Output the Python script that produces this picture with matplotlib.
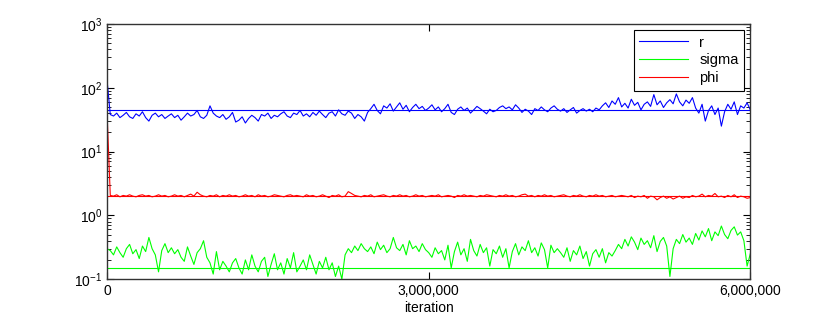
import numpy as np
import matplotlib
matplotlib.use("Agg")
import matplotlib.pyplot as plt
from matplotlib.ticker import FixedLocator, LogLocator, NullFormatter

plt.rcParams['font.family'] = ['Liberation Sans', 'DejaVu Sans']

r = [130,
     38, 36, 40, 34, 37, 41, 35, 33, 39, 36, 42, 34, 30, 37, 40, 35, 38, 33, 36, 39,
     34, 37, 31, 35, 40, 36, 38, 44, 35, 33, 37, 52, 40, 36, 34, 38, 32, 35, 41, 29,
     31, 35, 28, 33, 37, 34, 30, 38, 36, 40, 33, 37, 35, 39, 42, 36, 34, 40, 38, 44,
     36, 39, 35, 41, 37, 43, 38, 34, 40, 42, 36, 45, 39, 37, 43, 40, 33, 38, 35, 30,
     41, 47, 55, 44, 39, 52, 48, 56, 43, 50, 58, 46, 53, 42, 49, 55, 47, 51, 44, 48,
     54, 45, 50, 42, 47, 55, 41, 38, 46, 50, 44, 48, 40, 45, 51, 47, 43, 39, 46, 42,
     44, 49, 52, 47, 50, 45, 54, 48, 41, 46, 43, 38, 47, 44, 50, 45, 42, 48, 52, 46,
     43, 47, 41, 45, 49, 40, 44, 47, 43, 46, 42, 48, 45, 52, 58, 49, 62, 55, 70, 50,
     57, 48, 66, 53, 59, 45, 55, 60, 51, 78, 54, 62, 49, 58, 65, 56, 80, 60, 52, 64,
     57, 70, 48, 40, 55, 30, 44, 52, 38, 48, 25, 42, 55, 46, 60, 38, 52, 48, 58, 45]

sigma = [0.30,
         0.28, 0.24, 0.32, 0.26, 0.22, 0.30, 0.35, 0.25, 0.29, 0.21, 0.33, 0.27, 0.45, 0.30, 0.24, 0.13, 0.28, 0.36, 0.26, 0.31,
         0.25, 0.29, 0.22, 0.19, 0.32, 0.23, 0.17, 0.26, 0.30, 0.40, 0.22, 0.18, 0.12, 0.27, 0.14, 0.19, 0.16, 0.13, 0.18, 0.21,
         0.15, 0.12, 0.20, 0.14, 0.24, 0.16, 0.13, 0.19, 0.22, 0.11, 0.17, 0.25, 0.14, 0.18, 0.12, 0.21, 0.15, 0.26, 0.13, 0.16,
         0.20, 0.14, 0.24, 0.17, 0.12, 0.19, 0.15, 0.22, 0.14, 0.18, 0.11, 0.16, 0.10, 0.24, 0.30, 0.26, 0.33, 0.28, 0.36, 0.30,
         0.27, 0.32, 0.25, 0.38, 0.29, 0.34, 0.26, 0.30, 0.45, 0.31, 0.28, 0.35, 0.24, 0.40, 0.30, 0.33, 0.27, 0.36, 0.29, 0.26,
         0.22, 0.31, 0.25, 0.28, 0.20, 0.34, 0.15, 0.27, 0.38, 0.24, 0.30, 0.19, 0.42, 0.28, 0.23, 0.35, 0.26, 0.31, 0.16, 0.29,
         0.25, 0.33, 0.22, 0.30, 0.15, 0.27, 0.36, 0.24, 0.32, 0.28, 0.40, 0.26, 0.31, 0.23, 0.37, 0.29, 0.15, 0.34, 0.26, 0.30,
         0.26, 0.22, 0.31, 0.19, 0.28, 0.24, 0.33, 0.21, 0.27, 0.16, 0.25, 0.29, 0.22, 0.30, 0.18, 0.26, 0.23, 0.28, 0.35, 0.30,
         0.42, 0.33, 0.46, 0.38, 0.29, 0.44, 0.35, 0.40, 0.31, 0.48, 0.27, 0.39, 0.45, 0.33, 0.11, 0.30, 0.42, 0.36, 0.50, 0.38,
         0.44, 0.35, 0.52, 0.41, 0.57, 0.46, 0.62, 0.40, 0.55, 0.48, 0.68, 0.50, 0.43, 0.58, 0.66, 0.49, 0.55, 0.40, 0.16, 0.25]

phi = [40,
       2.05, 2.0, 2.1, 1.95, 2.05, 2.0, 2.1, 2.0, 1.95, 2.05, 2.1, 2.0, 2.05, 1.95, 2.0, 2.1, 2.0, 2.05, 1.95, 2.0,
       2.1, 2.0, 2.05, 1.95, 2.05, 2.15, 2.0, 2.3, 2.1, 2.0, 1.95, 2.05, 2.0, 2.1, 1.95, 2.05, 2.0, 2.1, 2.0, 2.05,
       1.95, 2.0, 2.1, 2.0, 2.05, 1.95, 2.1, 2.0, 2.05, 1.95, 2.0, 2.1, 2.05, 2.0, 1.95, 2.05, 2.1, 2.0, 2.05, 2.0,
       1.95, 2.1, 2.0, 2.05, 1.95, 2.0, 2.1, 2.0, 1.9, 2.05, 2.0, 2.1, 1.95, 2.0, 2.35, 2.2, 2.05, 2.0, 1.95, 2.05,
       2.0, 2.1, 1.95, 2.0, 2.05, 2.1, 2.0, 1.95, 2.05, 2.0, 2.1, 2.0, 2.05, 1.95, 2.0, 2.1, 2.0, 2.05, 1.95, 2.0,
       2.05, 2.0, 2.1, 1.95, 2.0, 2.05, 2.0, 1.9, 2.05, 2.0, 2.1, 2.0, 2.05, 2.0, 1.95, 2.05, 2.0, 2.1, 2.05, 2.0,
       1.95, 2.05, 2.0, 2.1, 2.0, 2.05, 1.95, 2.0, 2.1, 2.15, 2.0, 2.05, 1.95, 2.05, 2.0, 2.1, 2.0, 2.05, 1.95, 2.0,
       2.05, 2.1, 2.0, 1.95, 2.05, 2.0, 2.1, 2.0, 1.95, 2.05, 2.0, 2.1, 2.0, 2.05, 1.95, 2.0, 2.05, 1.95, 2.0, 2.05,
       2.0, 1.95, 2.05, 1.9, 2.0, 1.95, 2.05, 1.85, 2.0, 1.95, 1.75, 1.9, 2.0, 1.85, 1.95, 1.8, 1.9, 2.0, 1.85, 1.95,
       1.9, 2.05, 1.95, 2.0, 2.15, 1.95, 2.05, 2.0, 2.2, 1.95, 2.0, 1.9, 2.05, 1.95, 2.1, 1.9, 2.0, 1.95, 1.85, 1.9]

# true parameter values (horizontal reference lines)
r_true = 45
sigma_true = 0.15
phi_true = 2.0

n_iter = 6000000
xticks = [0, 3000000, 6000000]
xticklabels = ['0', '3,000,000', '6,000,000']

fig = plt.figure(figsize=(8.3, 3.19), dpi=100)
ax = fig.add_axes([0.129, 0.125, 0.775, 0.80])

for vals, truth, col, name in [(r, r_true, '#0000ff', 'r'),
                               (sigma, sigma_true, '#00ff00', 'sigma'),
                               (phi, phi_true, '#ff0000', 'phi')]:
    it = np.linspace(0, n_iter, len(vals))
    ax.plot(it, vals, color=col, lw=0.8, label=name)
    ax.plot([0, n_iter], [truth, truth], color=col, lw=0.8)

ax.set_yscale('log')
ax.set_ylim(0.1, 1000)
ax.set_xlim(0, n_iter)
ax.xaxis.set_major_locator(FixedLocator(xticks))
ax.set_xticklabels(xticklabels)
ax.yaxis.set_major_locator(LogLocator(base=10, numticks=10))
ax.yaxis.set_minor_locator(LogLocator(base=10, subs=np.arange(2, 10), numticks=10))
ax.yaxis.set_minor_formatter(NullFormatter())
ax.tick_params(which='both', direction='in', top=True, right=True, labelsize=10)
ax.tick_params(which='major', length=5)
ax.tick_params(which='minor', length=3)
for s in ax.spines.values():
    s.set_color('#333333')
    s.set_linewidth(1.0)

ax.set_xlabel('iteration', fontsize=10, labelpad=2)

leg = ax.legend(loc='upper right', fancybox=False, edgecolor='black',
                fontsize=10.5, handlelength=3.3, borderaxespad=0.4,
                labelspacing=0.25, framealpha=1)
leg.get_frame().set_linewidth(0.8)

fig.savefig('out.png', dpi=100)
